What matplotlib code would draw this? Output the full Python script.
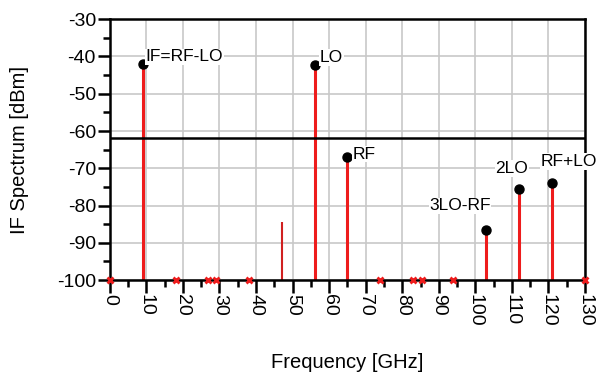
import matplotlib.pyplot as plt
import numpy as np

# spectrum lines (GHz, dBm)
freq = [9, 56, 65, 47, 103, 112, 121]
level = [-42, -42.2, -67, -84.5, -86.5, -75.5, -74]
names = ['IF=RF-LO', 'LO', 'RF', '', '3LO-RF', '2LO', 'RF+LO']
# harmonics that sit at the floor
floor_freq = [0, 18, 27, 29, 38, 74, 83, 85.5, 94, 130]
floor_level = -100
ref_level = -62

plt.rcParams['font.family'] = ['Liberation Sans', 'DejaVu Sans']
plt.rcParams['axes.unicode_minus'] = False

fig = plt.figure(figsize=(6, 3.76), dpi=100)
ax = fig.add_axes([0.183, 0.255, 0.792, 0.694])

for f, l, n in zip(freq, level, names):
    if n == '':
        ax.vlines(f, floor_level, l, color='#d02020', lw=1.5)
    else:
        ax.vlines(f, floor_level, l, color='#ee1c1c', lw=2.2)
        ax.plot(f, l, 'o', color='black', ms=6.5)

ax.plot(floor_freq, [floor_level] * len(floor_freq), 'x', color='#ee1c1c',
        ms=5, mew=2, clip_on=False, zorder=5)
ax.axhline(ref_level, color='black', lw=1.8)

box = dict(facecolor='white', edgecolor='none', pad=0.5)
fs = 12.5
ax.text(9.8, -40.1, 'IF=RF-LO', fontsize=fs, ha='left', va='center', bbox=box)
ax.text(57.5, -40.3, 'LO', fontsize=fs, ha='left', va='center', bbox=box)
ax.text(66.5, -66.2, 'RF', fontsize=fs, ha='left', va='center', bbox=box)
ax.text(95.8, -80.1, '3LO-RF', fontsize=fs, ha='center', va='center', bbox=box)
ax.text(110, -70.1, '2LO', fontsize=fs, ha='center', va='center', bbox=box)
ax.text(125.6, -68.2, 'RF+LO', fontsize=fs, ha='center', va='center', bbox=box,
        clip_on=False)

ax.set_xlim(0, 130)
ax.set_ylim(-100, -30)
ax.set_xticks(np.arange(0, 131, 10))
ax.set_xticks(np.arange(5, 131, 10), minor=True)
ax.set_yticks(np.arange(-100, -29, 10))
ax.set_yticks(np.arange(-95, -30, 10), minor=True)
ax.set_xticklabels([str(v) for v in range(0, 131, 10)], rotation=-90)
ax.grid(True, which='major', color='#c8c8c8', lw=1.2)
ax.set_axisbelow(True)

ax.tick_params(which='major', length=9, width=1.8, labelsize=14, pad=1)
ax.tick_params(which='minor', length=5, width=1.8)
for s in ax.spines.values():
    s.set_linewidth(1.8)

ax.set_xlabel('Frequency [GHz]', fontsize=14.5, labelpad=19)
ax.set_ylabel('IF Spectrum [dBm]', fontsize=14.5, labelpad=20)

plt.savefig('out.png', dpi=100)
